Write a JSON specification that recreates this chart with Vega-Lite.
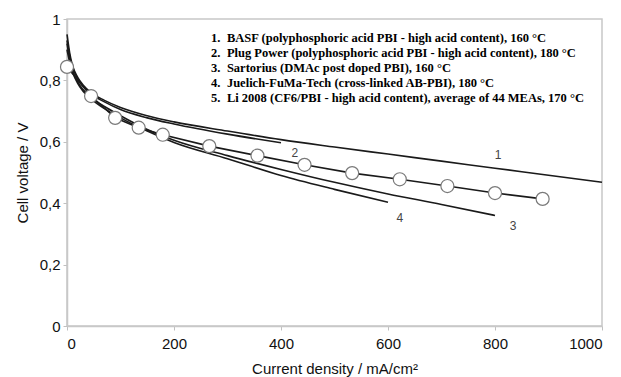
{
  "$schema": "https://vega.github.io/schema/vega-lite/v6.json",
  "width": 535,
  "height": 307,
  "autosize": {"type": "none"},
  "padding": {"left": 67, "top": 19, "right": 19, "bottom": 51},
  "background": "white",
  "config": {
    "view": {"stroke": "#c8c8c8", "strokeWidth": 1.5},
    "axis": {
      "grid": false,
      "domainColor": "#c8c8c8",
      "domainWidth": 1.5,
      "tickColor": "#c0c0c0",
      "tickSize": 4,
      "labelFont": "Liberation Sans",
      "labelFontSize": 15,
      "labelColor": "#111",
      "titleFont": "Liberation Sans",
      "titleFontSize": 15,
      "titleFontWeight": "normal",
      "titleColor": "#111"
    }
  },
  "datasets": {
    "curves": [
      {"s": "1", "x": 0, "y": 0.95}, {"s": "1", "x": 5, "y": 0.89}, {"s": "1", "x": 10, "y": 0.85}, {"s": "1", "x": 20, "y": 0.81}, {"s": "1", "x": 30, "y": 0.785}, {"s": "1", "x": 45, "y": 0.76}, {"s": "1", "x": 70, "y": 0.735}, {"s": "1", "x": 100, "y": 0.712}, {"s": "1", "x": 150, "y": 0.685}, {"s": "1", "x": 200, "y": 0.665}, {"s": "1", "x": 300, "y": 0.635}, {"s": "1", "x": 400, "y": 0.607}, {"s": "1", "x": 500, "y": 0.583}, {"s": "1", "x": 600, "y": 0.56}, {"s": "1", "x": 700, "y": 0.537}, {"s": "1", "x": 800, "y": 0.514}, {"s": "1", "x": 900, "y": 0.491}, {"s": "1", "x": 1000, "y": 0.468},
      {"s": "2", "x": 0, "y": 0.93}, {"s": "2", "x": 5, "y": 0.88}, {"s": "2", "x": 10, "y": 0.845}, {"s": "2", "x": 20, "y": 0.805}, {"s": "2", "x": 30, "y": 0.78}, {"s": "2", "x": 45, "y": 0.755}, {"s": "2", "x": 70, "y": 0.73}, {"s": "2", "x": 100, "y": 0.705}, {"s": "2", "x": 150, "y": 0.678}, {"s": "2", "x": 200, "y": 0.658}, {"s": "2", "x": 300, "y": 0.625}, {"s": "2", "x": 400, "y": 0.597},
      {"s": "3", "x": 0, "y": 0.92}, {"s": "3", "x": 5, "y": 0.87}, {"s": "3", "x": 10, "y": 0.835}, {"s": "3", "x": 20, "y": 0.795}, {"s": "3", "x": 30, "y": 0.77}, {"s": "3", "x": 45, "y": 0.745}, {"s": "3", "x": 70, "y": 0.715}, {"s": "3", "x": 100, "y": 0.685}, {"s": "3", "x": 150, "y": 0.64}, {"s": "3", "x": 200, "y": 0.605}, {"s": "3", "x": 300, "y": 0.555}, {"s": "3", "x": 400, "y": 0.51}, {"s": "3", "x": 500, "y": 0.468}, {"s": "3", "x": 600, "y": 0.43}, {"s": "3", "x": 700, "y": 0.396}, {"s": "3", "x": 800, "y": 0.36},
      {"s": "4", "x": 0, "y": 0.9}, {"s": "4", "x": 5, "y": 0.86}, {"s": "4", "x": 10, "y": 0.83}, {"s": "4", "x": 20, "y": 0.79}, {"s": "4", "x": 30, "y": 0.765}, {"s": "4", "x": 45, "y": 0.74}, {"s": "4", "x": 70, "y": 0.708}, {"s": "4", "x": 100, "y": 0.678}, {"s": "4", "x": 150, "y": 0.635}, {"s": "4", "x": 200, "y": 0.598}, {"s": "4", "x": 300, "y": 0.545}, {"s": "4", "x": 400, "y": 0.49}, {"s": "4", "x": 500, "y": 0.445}, {"s": "4", "x": 600, "y": 0.403}
    ],
    "li": [
      {"x": 0, "y": 0.844}, {"x": 45, "y": 0.749}, {"x": 90, "y": 0.678}, {"x": 134, "y": 0.646}, {"x": 179, "y": 0.623}, {"x": 266, "y": 0.586}, {"x": 356, "y": 0.555}, {"x": 444, "y": 0.525}, {"x": 533, "y": 0.498}, {"x": 622, "y": 0.478}, {"x": 711, "y": 0.456}, {"x": 800, "y": 0.433}, {"x": 889, "y": 0.414}
    ],
    "tags": [
      {"t": "1", "x": 806, "y": 0.557},
      {"t": "2", "x": 426, "y": 0.565},
      {"t": "3", "x": 834, "y": 0.326},
      {"t": "4", "x": 622, "y": 0.352}
    ],
    "legend": [
      {"num": "1.", "label": "BASF (polyphosphoric acid PBI - high acid content), 160 °C", "x": 269, "y": 0.9365},
      {"num": "2.", "label": "Plug Power (polyphosphoric acid PBI - high acid content), 180 °C", "x": 269, "y": 0.888},
      {"num": "3.", "label": "Sartorius (DMAc post doped PBI), 160 °C", "x": 269, "y": 0.84},
      {"num": "4.", "label": "Juelich-FuMa-Tech (cross-linked AB-PBI), 180 °C", "x": 269, "y": 0.792},
      {"num": "5.", "label": "Li 2008 (CF6/PBI - high acid content), average of 44 MEAs, 170 °C", "x": 269, "y": 0.744}
    ]
  },
  "layer": [
    {
      "data": {"name": "curves"},
      "mark": {"type": "line", "interpolate": "monotone", "color": "#1a1a1a", "strokeWidth": 1.6},
      "encoding": {
        "x": {"field": "x", "type": "quantitative", "scale": {"domain": [0, 1000], "nice": false}, "axis": {"values": [0, 200, 400, 600, 800, 1000], "format": "d", "title": "Current density / mA/cm²", "labelPadding": 6, "titlePadding": 10}},
        "y": {"field": "y", "type": "quantitative", "scale": {"domain": [0, 1], "nice": false}, "axis": {"values": [0, 0.2, 0.4, 0.6, 0.8, 1], "labelExpr": "replace(format(datum.value, '.1~f'), '.', ',')", "title": "Cell voltage / V", "labelPadding": 3, "titlePadding": 9}},
        "detail": {"field": "s"}
      }
    },
    {
      "data": {"name": "li"},
      "mark": {"type": "line", "color": "#1a1a1a", "strokeWidth": 1.6},
      "encoding": {
        "x": {"field": "x", "type": "quantitative"},
        "y": {"field": "y", "type": "quantitative"}
      }
    },
    {
      "data": {"name": "li"},
      "mark": {"type": "point", "shape": "circle", "filled": true, "fill": "white", "stroke": "#7a7a7a", "strokeWidth": 1.2, "size": 170, "opacity": 1},
      "encoding": {
        "x": {"field": "x", "type": "quantitative"},
        "y": {"field": "y", "type": "quantitative"}
      }
    },
    {
      "data": {"name": "tags"},
      "mark": {"type": "text", "font": "Liberation Sans", "fontSize": 12, "color": "#444"},
      "encoding": {
        "x": {"field": "x", "type": "quantitative"},
        "y": {"field": "y", "type": "quantitative"},
        "text": {"field": "t"}
      }
    },
    {
      "data": {"name": "legend"},
      "mark": {"type": "text", "font": "Liberation Serif", "fontWeight": "bold", "fontSize": 12.5, "align": "left", "baseline": "middle", "color": "#000"},
      "encoding": {
        "x": {"field": "x", "type": "quantitative"},
        "y": {"field": "y", "type": "quantitative"},
        "text": {"field": "num"}
      }
    },
    {
      "data": {"name": "legend"},
      "mark": {"type": "text", "font": "Liberation Serif", "fontWeight": "bold", "fontSize": 12.5, "align": "left", "baseline": "middle", "dx": 16, "color": "#000"},
      "encoding": {
        "x": {"field": "x", "type": "quantitative"},
        "y": {"field": "y", "type": "quantitative"},
        "text": {"field": "label"}
      }
    }
  ]
}
